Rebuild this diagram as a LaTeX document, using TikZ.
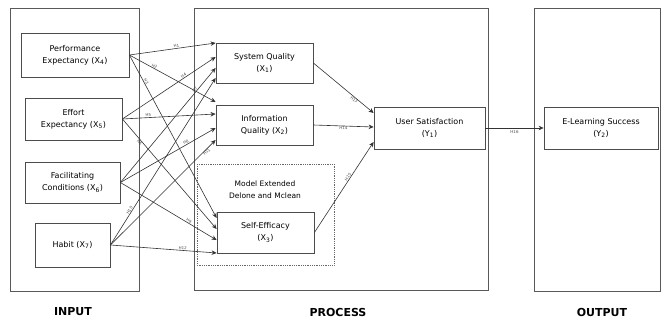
\documentclass[tikz,border=0pt]{standalone}
\usepackage{fontspec}
\setmainfont{DejaVu Sans}
\usetikzlibrary{arrows.meta,calc}
\begin{document}
\begin{tikzpicture}[x=1pt,y=-1pt,
  frame/.style={draw=black!65,line width=1pt},
  box/.style={draw=black!70,line width=0.8pt,align=center,inner sep=1pt,
     font=\fontsize{8}{12}\selectfont},
  arr/.style={draw=black!80,line width=0.6pt,-{Stealth[length=5pt,width=4.5pt]}},
  hl/.style={font=\fontsize{4}{4}\selectfont,inner sep=0.5pt,sloped,text=black!70},
  phase/.style={font=\bfseries\fontsize{11}{11}\selectfont}]
\useasboundingbox (0,0) rectangle (662,323);
% frames
\draw[frame] (10,9) rectangle (139,292);
\draw[frame] (194,9) rectangle (488,291);
\draw[frame] (534,9) rectangle (660,292);
% dashed extension box
\draw[black!60,densely dotted,line width=0.8pt] (197,164) rectangle (334,265);
\node[font=\fontsize{7.5}{12}\selectfont,align=center] (model) at (265,190) {Model Extended\\Delone and Mclean};
% input nodes
\node[box,minimum width=108,minimum height=44] (PE) at (75,55) {Performance\\Expectancy (X\textsubscript{4})};
\node[box,minimum width=97,minimum height=42] (EE) at (73.5,119) {Effort\\Expectancy (X\textsubscript{5})};
\node[box,minimum width=95,minimum height=41] (FC) at (72.5,182.5) {Facilitating\\Conditions (X\textsubscript{6})};
\node[box,minimum width=75,minimum height=44] (HB) at (72.5,245) {Habit (X\textsubscript{7})};
% process nodes
\node[box,minimum width=97,minimum height=40] (SQ) at (264.5,63) {System Quality\\(X\textsubscript{1})};
\node[box,minimum width=97,minimum height=40] (IQ) at (264.5,125) {Information\\Quality (X\textsubscript{2})};
\node[box,minimum width=97,minimum height=41,fill=white] (SE) at (265.5,232.5) {Self-Efficacy\\(X\textsubscript{3})};
\node[box,minimum width=111,minimum height=42] (US) at (429.5,128) {User Satisfaction\\(Y\textsubscript{1})};
% output node
\node[box,minimum width=114,minimum height=42] (EL) at (601,128) {E-Learning Success\\(Y\textsubscript{2})};
% phase labels
\node[phase] (in) at (73,312) {INPUT};
\node[phase] (pr) at (338,312) {PROCESS};
\node[phase] (out) at (602,312) {OUTPUT};
% arrows from inputs
\draw[arr] (PE.east) -- (SQ.west |- 0,43) node[hl,pos=.55,above] {H1};
\draw[arr] (PE.east) -- (IQ.west |- 0,102) node[hl,pos=.28,above] {H2};
\draw[arr] (PE.east) -- (SE.west |- 0,218) node[hl,pos=.17,above] {H3};
\draw[arr] (EE.east) -- (SQ.west |- 0,57) node[hl,pos=.67,above] {H4};
\draw[arr] (EE.east) -- (IQ.west |- 0,114) node[hl,pos=.28,above] {H5};
\draw[arr] (EE.east) -- (SE.west |- 0,229) node[hl,pos=.2,below] {H6};
\draw[arr] (FC.east) -- (SQ.west |- 0,68) node[hl,pos=.8,above] {H7};
\draw[arr] (FC.east) -- (IQ.west |- 0,128) node[hl,pos=.7,above] {H8};
\draw[arr] (FC.east) -- (SE.west |- 0,240) node[hl,pos=.7,above] {H9};
\draw[arr] (HB.east) -- (SQ.west |- 0,78) node[hl,pos=.2,above] {H10};
\draw[arr] (HB.east) -- (IQ.west |- 0,140) node[hl,pos=.9,below] {H11};
\draw[arr] (HB.east) -- (SE.west |- 0,253) node[hl,pos=.68,above] {H12};
% arrows into user satisfaction
\draw[arr] (SQ.east) -- (US.west |- 0,113) node[hl,pos=.7,below] {H13};
\draw[arr] (IQ.east) -- (US.west |- 0,127) node[hl,pos=.5,below] {H14};
\draw[arr] (SE.east) -- (US.west |- 0,142) node[hl,pos=.6,above] {H15};
\draw[arr] (US.east) -- (EL.west) node[hl,pos=.5,below=2pt] {H16};
\end{tikzpicture}
\end{document}
